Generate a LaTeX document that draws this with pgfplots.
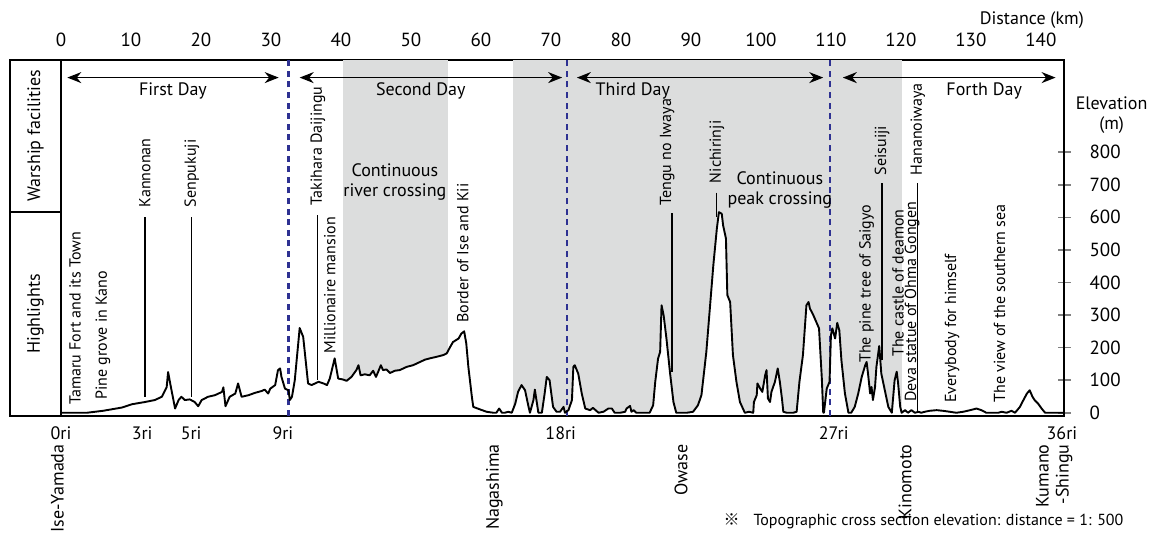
\documentclass[border=0pt]{standalone}
\usepackage{fontspec}
\setmainfont{PT Sans}
\newfontfamily\cjk{Noto Sans CJK JP}
\usepackage{pgfplots}
\usepackage{pgfplotstable}
\pgfplotsset{compat=1.18}
\usetikzlibrary{arrows.meta}

\definecolor{bandgray}{HTML}{DCDDDD}
\definecolor{navy}{HTML}{2E3192}

\pgfplotstableread{
km elev
0 0
3.7 0
6 6
8.7 16
10.1 26
12.0 33
13.4 39
14.4 49
15.1 79
15.3 125
15.7 79
16.3 13
16.8 39
17.2 49
17.7 39
18.4 41
19.1 33
19.6 20
20.1 39
21.0 49
22.0 54
23.0 64
23.2 78
23.5 20
24.1 49
24.9 59
25.3 90
25.8 49
26.8 54
27.7 61
28.7 67
29.1 71
29.6 59
29.9 74
30.6 85
31.0 131
31.3 136
31.5 110
32.0 74
32.5 69
32.7 39
33.0 49
33.4 100
34.1 260
34.6 233
35.3 90
35.8 85
36.8 95
37.5 90
38.0 85
38.4 105
39.1 167
39.6 105
40.3 102
40.8 98
41.5 110
42.2 131
42.5 146
42.8 115
43.4 118
44.1 115
44.6 129
45.0 110
45.3 125
45.7 146
46.0 131
46.5 133
47.0 122
47.7 129
48.4 131
49.4 141
50.3 146
51.3 156
52.0 163
52.7 167
53.7 172
54.6 177
55.1 182
55.6 202
56.0 217
56.8 228
57.2 243
57.6 250
57.9 213
58.2 141
58.7 49
58.9 18
59.9 10
60.8 3
61.8 0
62.2 0
62.6 13
63.0 0
63.4 0
63.9 3
64.4 0
64.9 28
65.3 64
65.8 85
66.3 69
66.8 18
67.0 0
67.5 39
67.7 71
68.2 0
68.7 0
69.1 59
69.4 110
69.8 100
70.3 18
70.8 3
71.3 3
71.8 18
72.0 0
72.5 8
73.0 39
73.2 141
73.4 146
73.9 120
74.4 59
74.9 13
75.6 8
76.0 15
76.8 0
77.5 3
78.2 13
78.7 13
79.1 0
79.9 0
80.6 3
80.8 13
81.3 21
81.5 3
81.8 8
82.2 0
84.1 0
84.6 23
84.9 95
85.3 166
85.6 187
85.8 330
86.1 299
86.5 228
87.0 125
87.5 33
87.9 0
89.4 0
90.3 3
91.0 23
91.5 54
92.2 187
92.7 320
93.2 453
93.7 565
94.0 616
94.4 611
94.6 575
95.0 535
95.2 361
95.6 340
96.0 177
96.5 95
97.0 33
97.7 0
98.3 3
98.9 0
99.0 33
99.4 54
99.5 90
99.9 74
100.2 64
100.6 115
100.8 131
101.0 44
101.3 33
101.5 64
102.0 95
102.4 136
102.7 95
103.0 44
103.2 3
103.7 0
104.6 0
105.1 3
105.5 95
106.0 177
106.5 330
106.8 340
107.0 320
107.5 299
107.9 279
108.3 259
108.7 105
108.9 0
109.0 0
109.4 74
109.8 95
110.0 238
110.2 259
110.6 228
110.9 276
111.2 253
111.5 161
112.0 59
112.5 0
112.9 0
113.4 18
113.9 59
114.4 110
114.9 146
115.1 156
115.3 120
115.6 59
115.8 79
116.0 39
116.3 79
116.5 141
116.9 205
117.2 120
117.7 69
118.2 18
118.7 0
119.1 100
119.4 126
119.6 90
119.9 18
120.1 0
120.6 8
121.0 0
121.5 8
122.0 0
122.5 3
122.9 0
123.4 3
124.1 6
125.1 8
126.0 6
127.0 3
127.9 0
128.9 3
129.9 8
130.8 13
131.5 8
132.2 0
133.2 0
133.9 0
134.4 3
135.1 0
135.8 6
136.3 0
137.0 18
137.5 39
138.0 59
138.4 69
138.8 49
139.1 39
139.6 28
140.1 13
140.6 0
141.3 0
142.3 0
143.0 0
143.3 0
}\profile

\begin{document}
\begin{tikzpicture}[
  hl/.style={rotate=90, anchor=west, font=\fontsize{8}{9}\selectfont, inner sep=0pt},
  bl/.style={rotate=90, anchor=east, font=\fontsize{9}{10}\selectfont, inner sep=0pt},
  rl/.style={font=\fontsize{9}{10}\selectfont, inner sep=0pt},
  dl/.style={font=\fontsize{9}{10}\selectfont, inner sep=0pt},
  darr/.style={{Stealth[length=7pt,width=5.5pt]}-{Stealth[length=7pt,width=5.5pt]}, line width=0.8pt},
  vdash/.style={navy, line width=1.1pt, dash pattern=on 3pt off 2.3pt},
]
\useasboundingbox (-30.5pt,-61pt) rectangle (547.5pt,208pt);
\begin{axis}[
  at={(0pt,0pt)}, anchor=south west,
  scale only axis, width=501.5pt, height=178pt,
  xmin=0, xmax=143.3, ymin=-10, ymax=1083,
  clip=false,
  axis line style={line width=1pt},
  xtick={0,10,...,140},
  xtick pos=right, xticklabel pos=right,
  xtick style={draw=none},
  ytick={0,100,...,800},
  ytick pos=right, yticklabel pos=right,
  tick align=center, major tick length=6.5pt,
  ytick style={line width=0.8pt},
  tick label style={font=\fontsize{9.5}{10}\selectfont},
  /pgf/number format/assume math mode=true,
  yticklabel style={xshift=6pt},
]
% shaded sections
\fill[bandgray] (axis cs:40.3,0) rectangle (axis cs:55.3,1083);
\fill[bandgray] (axis cs:64.6,0) rectangle (axis cs:120.1,1083);
% white under profile
\addplot[fill=white, draw=none] table[x=km,y=elev] {\profile} \closedcycle;
% day separators
\draw[vdash] (axis cs:32.5,-10) -- (axis cs:32.5,1083);
\draw[vdash] (axis cs:72.3,-10) -- (axis cs:72.3,1083);
\draw[vdash] (axis cs:109.9,-10) -- (axis cs:109.9,1083);
% profile
\addplot[black, line width=0.95pt, line join=round] table[x=km,y=elev] {\profile};

% left panel
\draw[line width=1pt] (rel axis cs:-0.05085,0) rectangle (rel axis cs:0,1);
\draw[line width=0.6pt] (rel axis cs:-0.05085,0.573) -- (rel axis cs:0,0.573);
\node[rotate=90, font=\fontsize{9}{10}\selectfont] at (rel axis cs:-0.0254,0.787) {Warship facilities};
\node[rotate=90, font=\fontsize{9}{10}\selectfont] at (rel axis cs:-0.0254,0.287) {Highlights};

% day arrows
\draw[darr] (axis cs:0.9,1029) -- (axis cs:31.1,1029);
\draw[darr] (axis cs:34.1,1029) -- (axis cs:71.6,1029);
\draw[darr] (axis cs:73.7,1029) -- (axis cs:108.9,1029);
\draw[darr] (axis cs:111.7,1029) -- (axis cs:142.1,1029);
\node[dl] at (axis cs:16,989) {First Day};
\node[dl] at (axis cs:51.4,989) {Second Day};
\node[dl] at (axis cs:81.7,989) {Third Day};
\node[dl] at (axis cs:131.9,989) {Forth Day};

% highlight lines
\draw[line width=0.6pt] (axis cs:12.0,600) -- (axis cs:12.0,48);
\draw[line width=0.6pt] (axis cs:18.7,600) -- (axis cs:18.7,48);
\draw[line width=0.6pt] (axis cs:36.7,606) -- (axis cs:36.7,100);
\draw[line width=0.6pt] (axis cs:87.3,613) -- (axis cs:87.3,125);
\draw[line width=0.6pt] (axis cs:93.6,676) -- (axis cs:93.6,600);
\draw[line width=0.6pt] (axis cs:117.3,705) -- (axis cs:117.3,161);
\draw[line width=0.6pt] (axis cs:122.4,705) -- (axis cs:122.4,0);

% highlight labels
\node[hl] at (axis cs:2.0,23) {Tamaru Fort and its Town};
\node[hl] at (axis cs:6.0,39) {Pine grove in Kano};
\node[hl] at (axis cs:12.0,630) {Kannonan};
\node[hl] at (axis cs:18.7,630) {Senpukuji};
\node[hl] at (axis cs:36.7,636) {Takihara Daijingu};
\node[hl] at (axis cs:38.4,182) {Millionaire mansion};
\node[dl, align=center] at (axis cs:47.7,707) {Continuous\\river crossing};
\node[hl] at (axis cs:57.4,275) {Border of Ise and Kii};
\node[hl] at (axis cs:86.6,635) {Tengu no Iwaya};
\node[hl] at (axis cs:93.7,704) {Nichirinji};
\node[dl, align=center] at (axis cs:102.7,685) {Continuous\\peak crossing};
\node[hl] at (axis cs:117.3,728) {Seisuiji};
\node[hl] at (axis cs:122.4,728) {Hananoiwaya};
\node[hl] at (axis cs:115.1,152) {The pine tree of Saigyo};
\node[hl] at (axis cs:119.6,171) {The castle of deamon};
\node[hl] at (axis cs:121.6,33) {Deva statue of Ohma Gongen};
\node[hl] at (axis cs:127.3,30) {Everybody for himself};
\node[hl] at (axis cs:134.1,30) {The view of the southern sea};

% ri labels
\node[rl] at (axis cs:0,-63) {0ri};
\node[rl] at (axis cs:11.6,-63) {3ri};
\node[rl] at (axis cs:18.6,-63) {5ri};
\node[rl] at (axis cs:31.7,-63) {9ri};
\node[rl] at (axis cs:71.4,-63) {18ri};
\node[rl] at (axis cs:110.4,-63) {27ri};
\node[rl] at (axis cs:143.0,-63) {36ri};

% station labels
\node[bl] at (axis cs:-0.5,-96) {Ise-Yamada};
\node[bl] at (axis cs:61.9,-96) {Nagashima};
\node[bl] at (axis cs:88.6,-96) {Owase};
\node[bl] at (axis cs:120.6,-96) {Kinomoto};
\node[bl, align=right] at (axis cs:141.9,-96) {Kumano\\-Shingu};

% axis titles
\node[font=\fontsize{9}{10}\selectfont] at (axis cs:138.7,1207) {Distance (km)};
\node[font=\fontsize{9}{10}\selectfont, align=center] at (axis cs:150.1,913) {Elevation\\(m)};
\node[anchor=west, font=\fontsize{8}{9}\selectfont, inner sep=0pt] at (axis cs:94.6,-332) {{\cjk ※}\hspace{7pt}Topographic cross section elevation: distance = 1: 500};
\end{axis}
\end{tikzpicture}
\end{document}
